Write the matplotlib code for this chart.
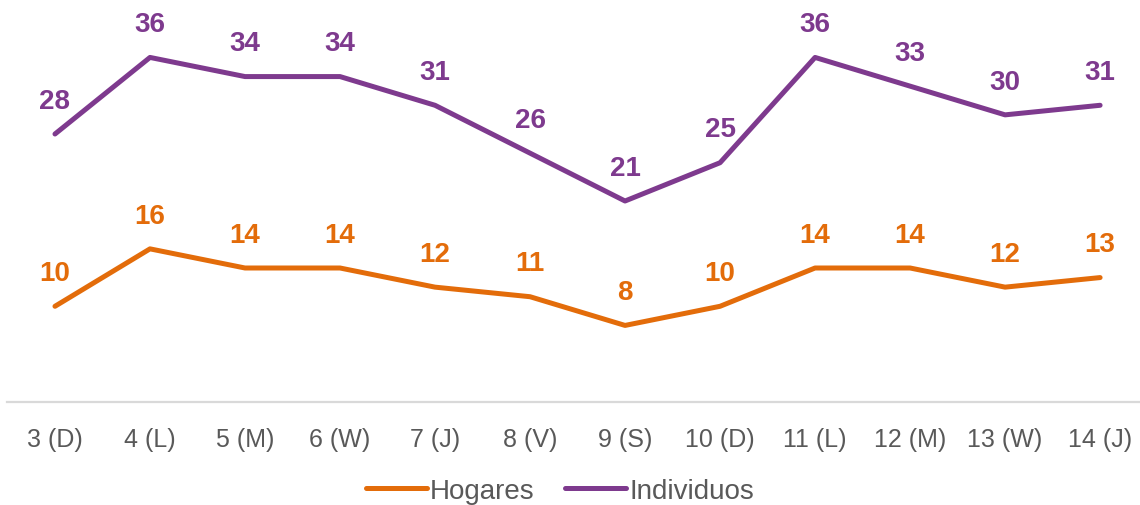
import matplotlib
matplotlib.use("Agg")
import matplotlib.pyplot as plt

plt.rcParams["font.family"] = ["Liberation Sans Narrow", "Liberation Sans", "DejaVu Sans"]

days = ["3 (D)", "4 (L)", "5 (M)", "6 (W)", "7 (J)", "8 (V)", "9 (S)",
        "10 (D)", "11 (L)", "12 (M)", "13 (W)", "14 (J)"]
hogares = [10, 16, 14, 14, 12, 11, 8, 10, 14, 14, 12, 13]
individuos = [28, 36, 34, 34, 31, 26, 21, 25, 36, 33, 30, 31]

ORANGE = "#E36C0A"
PURPLE = "#7E3A8E"
GRAY = "#595959"

fig = plt.figure(figsize=(11.4, 5.06), dpi=100)
ax = fig.add_axes([7 / 1140, 103 / 506, 1133 / 1140, 402 / 506])

x = list(range(len(days)))
ax.plot(x, hogares, color=ORANGE, lw=3.6, solid_capstyle="round", label="Hogares")
ax.plot(x, individuos, color=PURPLE, lw=3.6, solid_capstyle="round", label="Individuos")

# value labels above each point
for series, color in ((hogares, ORANGE), (individuos, PURPLE)):
    for xi, v in zip(x, series):
        ax.annotate(str(v), (xi, v), xytext=(0, 24), textcoords="offset points",
                    ha="center", va="center", fontsize=20, fontweight="bold",
                    color=color)

ax.set_xlim(-0.505, 11.42)
ax.set_ylim(0, 42)
ax.set_xticks(x)
ax.set_xticklabels(days, fontsize=18, color=GRAY)
ax.tick_params(axis="x", length=0, pad=18)
ax.set_yticks([])
for side in ("top", "right", "left"):
    ax.spines[side].set_visible(False)
ax.spines["bottom"].set_color("#D9D9D9")
ax.spines["bottom"].set_linewidth(1.6)

leg = fig.legend(loc="center", bbox_to_anchor=(560 / 1140, 1 - 492 / 506), ncol=2,
                 frameon=False, fontsize=20, handlelength=2.2, handletextpad=0.1,
                 columnspacing=1.1)
for t in leg.get_texts():
    t.set_color(GRAY)

fig.savefig("out.png", dpi=100)
